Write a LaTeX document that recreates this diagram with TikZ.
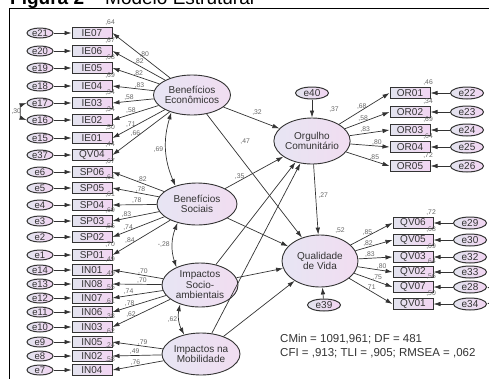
\documentclass[tikz,border=0pt]{standalone}
\usepackage{fontspec}
\setmainfont{Liberation Sans}
\usetikzlibrary{arrows.meta,shapes.geometric}

\definecolor{boxL}{HTML}{E3E4EF}
\definecolor{boxR}{HTML}{F2D5F2}
\definecolor{latL}{HTML}{E7E5F3}
\definecolor{latR}{HTML}{F1DDF1}
\definecolor{ink}{HTML}{333333}

\tikzset{
  lat/.style={ellipse, draw=ink, line width=.9pt, inner sep=0pt, left color=latL, right color=latR,
    align=center, text=ink, font=\fontsize{10}{10.5}\selectfont},
  obs/.style={rectangle, draw=ink, line width=1pt, inner sep=0pt, minimum width=40pt, minimum height=11pt,
    left color=boxL, right color=boxR, text=ink, font=\fontsize{10}{10}\selectfont},
  err/.style={ellipse, draw=ink, line width=1pt, inner sep=0pt, minimum width=26pt, minimum height=10pt,
    left color=boxL, right color=boxR, text=ink, font=\fontsize{9.5}{9.5}\selectfont},
  errR/.style={err, minimum width=33pt, minimum height=12pt, font=\fontsize{10}{10}\selectfont},
  arr/.style={draw=ink, line width=.7pt, -{Latex[length=7pt,width=4.5pt]}},
  cov/.style={draw=ink, line width=.7pt, {Latex[length=7pt,width=4.5pt]}-{Latex[length=7pt,width=4.5pt]}},
  ld/.style={text=black!60, inner sep=.5pt, font=\fontsize{6.8}{6.8}\selectfont},
  rsq/.style={ld, anchor=south east, xshift=3pt, yshift=1pt},
  stat/.style={inner sep=0pt, anchor=base west, text=ink, font=\fontsize{11.5}{11.5}\selectfont},
}

\begin{document}
\begin{tikzpicture}[x=1pt,y=-1pt]
  \useasboundingbox (0,0) rectangle (489,378);
  \begin{scope}
    \clip (0,0) rectangle (489,378);
    \node[anchor=base west, inner sep=0pt, font=\fontsize{19}{19}\selectfont] (title) at (10,4.5)
      {\textbf{Figura 2} – Modelo Estrutural};
    \draw[line width=1pt] (9,390) -- (9,8) -- (495,8);
  \end{scope}

  % latent variables
  \node[lat, minimum width=75pt, minimum height=40pt] (BE) at (192,95) {Benefícios\\Econômicos};
  \node[lat, minimum width=80pt, minimum height=42pt] (BS) at (197,204) {Benefícios\\Sociais};
  \node[lat, minimum width=76pt, minimum height=44pt] (IS) at (200,285) {Impactos\\Socio-\\ambientais};
  \node[lat, minimum width=78pt, minimum height=42pt] (IM) at (201,354) {Impactos na\\Mobilidade};
  \node[lat, minimum width=76pt, minimum height=46pt] (OC) at (312,141) {Orgulho\\Comunitário};
  \node[lat, minimum width=76pt, minimum height=52pt] (QdV) at (320,261) {Qualidade\\de Vida};
  \node[errR] (e40) at (312,93) {e40};
  \node[errR] (e39) at (324,305) {e39};

  % left indicators
  \node[err] (e21) at (40,33) {e21};  \node[obs, label={[rsq]north east:,64}] (IE07) at (92,33) {IE07};
  \node[err] (e20) at (40,51) {e20};  \node[obs, label={[rsq]north east:,67}] (IE06) at (92,51) {IE06};
  \node[err] (e19) at (40,68) {e19};  \node[obs, label={[rsq]north east:,68}] (IE05) at (92,68) {IE05};
  \node[err] (e18) at (40,86) {e18};  \node[obs, label={[rsq]north east:,69}] (IE04) at (92,86) {IE04};
  \node[err] (e17) at (40,103) {e17}; \node[obs, label={[rsq]north east:,34}] (IE03) at (92,103) {IE03};
  \node[err] (e16) at (40,120) {e16}; \node[obs, label={[rsq]north east:,34}] (IE02) at (92,120) {IE02};
  \node[err] (e15) at (40,138) {e15}; \node[obs, label={[rsq]north east:,50}] (IE01) at (92,138) {IE01};
  \node[err] (e37) at (40,155) {e37}; \node[obs, label={[rsq]north east:,44}] (QV04) at (92,155) {QV04};
  \node[err] (e6) at (40,172) {e6};   \node[obs, label={[rsq]north east:,67}] (SP06) at (92,172) {SP06};
  \node[err] (e5) at (40,188) {e5};   \node[obs, label={[rsq]north east:,61}] (SP05) at (92,188) {SP05};
  \node[err] (e4) at (40,205) {e4};   \node[obs, label={[rsq]north east:,61}] (SP04) at (92,205) {SP04};
  \node[err] (e3) at (40,221) {e3};   \node[obs, label={[rsq]north east:,69}] (SP03) at (92,221) {SP03};
  \node[err] (e2) at (40,237) {e2};   \node[obs, label={[rsq]north east:,55}] (SP02) at (92,237) {SP02};
  \node[err] (e1) at (40,255) {e1};   \node[obs, label={[rsq]north east:,70}] (SP01) at (92,255) {SP01};
  \node[err] (e14) at (40,270) {e14}; \node[obs, label={[rsq]north east:,49}] (IN01) at (92,270) {IN01};
  \node[err] (e13) at (40,284) {e13}; \node[obs, label={[rsq]north east:,49}] (IN08) at (92,284) {IN08};
  \node[err] (e12) at (40,298) {e12}; \node[obs, label={[rsq]north east:,55}] (IN07) at (92,298) {IN07};
  \node[err] (e11) at (40,312) {e11}; \node[obs, label={[rsq]north east:,61}] (IN06) at (92,312) {IN06};
  \node[err] (e10) at (40,327) {e10}; \node[obs, label={[rsq]north east:,38}] (IN03) at (92,327) {IN03};
  \node[err] (e9) at (40,342) {e9};   \node[obs, label={[rsq]north east:,62}] (IN05) at (92,342) {IN05};
  \node[err] (e8) at (40,356) {e8};   \node[obs, label={[rsq]north east:,24}] (IN02) at (92,356) {IN02};
  \node[err] (e7) at (40,370) {e7};   \node[obs, label={[rsq]north east:,58}] (IN04) at (92,370) {IN04};

  % right indicators
  \node[obs, label={[rsq]north east:,46}] (OR01) at (410,93) {OR01};  \node[errR] (e22) at (467,93) {e22};
  \node[obs, label={[rsq]north east:,34}] (OR02) at (410,112) {OR02}; \node[errR] (e23) at (467,112) {e23};
  \node[obs, label={[rsq]north east:,69}] (OR03) at (410,130) {OR03}; \node[errR] (e24) at (467,130) {e24};
  \node[obs, label={[rsq]north east:,64}] (OR04) at (410,147) {OR04}; \node[errR] (e25) at (467,147) {e25};
  \node[obs, label={[rsq]north east:,72}] (OR05) at (410,166) {OR05}; \node[errR] (e26) at (467,166) {e26};
  \node[obs, label={[rsq]north east:,72}] (QV06) at (413,223) {QV06}; \node[errR] (e29) at (470,223) {e29};
  \node[obs, label={[rsq]north east:,68}] (QV05) at (413,240) {QV05}; \node[errR] (e30) at (470,240) {e30};
  \node[obs, label={[rsq]north east:,69}] (QV03) at (413,257) {QV03}; \node[errR] (e32) at (470,257) {e32};
  \node[obs, label={[rsq]north east:,64}] (QV02) at (413,272) {QV02}; \node[errR] (e33) at (470,272) {e33};
  \node[obs, label={[rsq]north east:,56}] (QV07) at (413,287) {QV07}; \node[errR] (e28) at (470,287) {e28};
  \node[obs, label={[rsq]north east:,50}] (QV01) at (413,304) {QV01}; \node[errR] (e34) at (470,304) {e34};

  % error terms
  \draw[arr] (e21) -- (IE07); \draw[arr] (e20) -- (IE06); \draw[arr] (e19) -- (IE05);
  \draw[arr] (e18) -- (IE04); \draw[arr] (e17) -- (IE03); \draw[arr] (e16) -- (IE02);
  \draw[arr] (e15) -- (IE01); \draw[arr] (e37) -- (QV04); \draw[arr] (e6) -- (SP06);
  \draw[arr] (e5) -- (SP05);  \draw[arr] (e4) -- (SP04);  \draw[arr] (e3) -- (SP03);
  \draw[arr] (e2) -- (SP02);  \draw[arr] (e1) -- (SP01);  \draw[arr] (e14) -- (IN01);
  \draw[arr] (e13) -- (IN08); \draw[arr] (e12) -- (IN07); \draw[arr] (e11) -- (IN06);
  \draw[arr] (e10) -- (IN03); \draw[arr] (e9) -- (IN05);  \draw[arr] (e8) -- (IN02);
  \draw[arr] (e7) -- (IN04);
  \draw[arr] (e22) -- (OR01); \draw[arr] (e23) -- (OR02); \draw[arr] (e24) -- (OR03);
  \draw[arr] (e25) -- (OR04); \draw[arr] (e26) -- (OR05);
  \draw[arr] (e29) -- (QV06); \draw[arr] (e30) -- (QV05); \draw[arr] (e32) -- (QV03);
  \draw[arr] (e33) -- (QV02); \draw[arr] (e28) -- (QV07); \draw[arr] (e34) -- (QV01);
  \draw[arr] (e40) -- (OC);   \draw[arr] (e39) -- (QdV);
  \draw[cov] (e17.west) to[bend right=70] node[ld, left] {,30} (e16.west);
  \draw[cov] (e28.east) to[bend left=70] (e34.east);

  % loadings
  \draw[arr] (BE) -- (IE07.east) node[ld, pos=.45, above] {,80};
  \draw[arr] (BE) -- (IE06.east) node[ld, pos=.5, above] {,82};
  \draw[arr] (BE) -- (IE05.east) node[ld, pos=.45, above] {,82};
  \draw[arr] (BE) -- (IE04.east) node[ld, pos=.35, above] {,83};
  \draw[arr] (BE) -- (IE03.east) node[ld, pos=.6, above] {,58};
  \draw[arr] (BE) -- (IE02.east) node[ld, pos=.6, above] {,58};
  \draw[arr] (BE) -- (IE01.east) node[ld, pos=.65, above] {,71};
  \draw[arr] (BE) -- (QV04.east) node[ld, pos=.6, above] {,66};
  \draw[arr] (BS) -- (SP06.east) node[ld, pos=.43, above] {,82};
  \draw[arr] (BS) -- (SP05.east) node[ld, pos=.4, above] {,78};
  \draw[arr] (BS) -- (SP04.east) node[ld, pos=.45, above] {,78};
  \draw[arr] (BS) -- (SP03.east) node[ld, pos=.7, above] {,83};
  \draw[arr] (BS) -- (SP02.east) node[ld, pos=.7, above] {,74};
  \draw[arr] (BS) -- (SP01.east) node[ld, pos=.7, above] {,84};
  \draw[arr] (IS) -- (IN01.east) node[ld, pos=.4, above] {,70};
  \draw[arr] (IS) -- (IN08.east) node[ld, pos=.4, above] {,70};
  \draw[arr] (IS) -- (IN07.east) node[ld, pos=.68, above] {,74};
  \draw[arr] (IS) -- (IN06.east) node[ld, pos=.68, above] {,78};
  \draw[arr] (IS) -- (IN03.east) node[ld, pos=.68, above] {,62};
  \draw[arr] (IM) -- (IN05.east) node[ld, pos=.4, above] {,79};
  \draw[arr] (IM) -- (IN02.east) node[ld, pos=.55, above] {,49};
  \draw[arr] (IM) -- (IN04.east) node[ld, pos=.55, above] {,76};
  \draw[arr] (OC) -- (OR01.west) node[ld, pos=.45, above] {,68};
  \draw[arr] (OC) -- (OR02.west) node[ld, pos=.41, above] {,58};
  \draw[arr] (OC) -- (OR03.west) node[ld, pos=.39, above] {,83};
  \draw[arr] (OC) -- (OR04.west) node[ld, pos=.68, above] {,80};
  \draw[arr] (OC) -- (OR05.west) node[ld, pos=.65, above] {,85};
  \draw[arr] (QdV) -- (QV06.west) node[ld, pos=.4, above] {,85};
  \draw[arr] (QdV) -- (QV05.west) node[ld, pos=.34, above] {,82};
  \draw[arr] (QdV) -- (QV03.west) node[ld, pos=.34, above] {,83};
  \draw[arr] (QdV) -- (QV02.west) node[ld, pos=.69, above] {,80};
  \draw[arr] (QdV) -- (QV07.west) node[ld, pos=.6, above] {,75};
  \draw[arr] (QdV) -- (QV01.west) node[ld, pos=.5, above] {,71};

  % covariances between factors
  \draw[cov] (BE.220) to[bend right=20] node[ld, left=2pt] {,69} (BS.140);
  \draw[cov] (BS.224) to[bend right=20] node[ld, left=2pt] {-,28} (IS.143);
  \draw[cov] (IS.224) to[bend right=20] node[ld, left=1pt] {,62} (IM.131);

  % structural paths
  \draw[arr] (BE) -- (OC) node[ld, pos=.6, above=4pt] {,32};
  \draw[arr] (BE) -- (QdV) node[ld, pos=.22, right=12pt] {,47};
  \draw[arr] (BS) -- (OC) node[ld, pos=.25, above] {,35};
  \draw[arr] (BS) -- (QdV);
  \draw[arr] (IS) -- (OC);
  \draw[arr] (IS) -- (QdV);
  \draw[arr] (IM) -- (OC);
  \draw[arr] (IM) -- (QdV);
  \draw[arr] (OC) -- (QdV) node[ld, pos=.45, right=2pt] {,27};
  \node[ld] (r2oc) at (334,110) {,37};
  \node[ld] (r2qv) at (340,231) {,52};

  % fit indices
  \node[stat] (cmin) at (280,342) {CMin = 1091,961; DF = 481};
  \node[stat] (cfi) at (280,356) {CFI = ,913; TLI = ,905; RMSEA = ,062};
\end{tikzpicture}
\end{document}
